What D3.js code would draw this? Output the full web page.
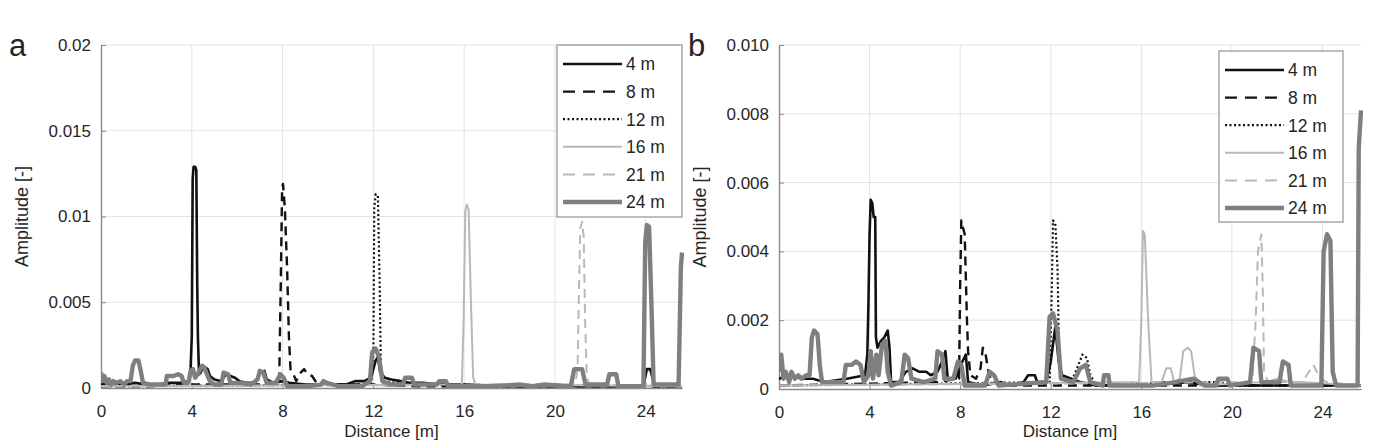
<!DOCTYPE html>
<html lang="en">
<head>
<meta charset="UTF-8">
<title>Amplitude vs distance</title>
<script src="https://d3js.org/d3.v7.min.js"></script>
<style>
  body { margin: 0; background: #fff; }
  svg text { font-family: "Liberation Sans", Arial, Helvetica, sans-serif; fill: #262626; }
</style>
</head>
<body>
<div id="chart"></div>
<script>
// legend labels, ticks
var seriesNames = ["4 m", "8 m", "12 m", "16 m", "21 m", "24 m"];
var xTicks = [0, 4, 8, 12, 16, 20, 24];
var yTicksA = [0, 0.005, 0.01, 0.015, 0.02];
var yTickLabelsA = ["0", "0.005", "0.01", "0.015", "0.02"];
var yTicksB = [0, 0.002, 0.004, 0.006, 0.008, 0.010];
var yTickLabelsB = ["0", "0.002", "0.004", "0.006", "0.008", "0.010"];

// panel a : [distance m, amplitude]
var a4 = [[0,0.0002],[0.5,0.0003],[1,0.0002],[1.5,0.0003],[2,0.0002],[2.5,0.0002],[3,0.0003],[3.5,0.0003],[3.9,0.0004],[3.95,0.0012],[4.0,0.003],[4.04,0.0122],[4.08,0.0129],[4.15,0.0129],[4.2,0.0127],[4.24,0.006],[4.27,0.003],[4.32,0.0008],[4.4,0.0009],[4.5,0.0013],[4.6,0.0012],[4.7,0.0011],[4.8,0.0007],[5.0,0.0005],[5.3,0.0004],[5.5,0.0008],[5.7,0.0007],[5.9,0.0006],[6.1,0.0004],[6.4,0.0003],[6.8,0.0003],[7.0,0.0009],[7.2,0.001],[7.3,0.0005],[7.6,0.0003],[8.0,0.0004],[8.3,0.0003],[9,0.0002],[10,0.0002],[10.8,0.0002],[11.2,0.0004],[11.6,0.0004],[11.9,0.0006],[12.1,0.0016],[12.2,0.0018],[12.3,0.0009],[12.5,0.0006],[12.8,0.0005],[13.2,0.0004],[13.6,0.0003],[14.2,0.0003],[14.9,0.0002],[16,0.0002],[18,0.0001],[20,0.0001],[22,0.0001],[23.9,0.0001],[24.05,0.0011],[24.2,0.0011],[24.4,0.0001],[25.6,0.0001]];
var a8 = [[0,0.0001],[2,0.0001],[4,0.0002],[6,0.0002],[7.5,0.0002],[7.85,0.0003],[7.92,0.006],[7.98,0.0117],[8.02,0.0119],[8.1,0.0105],[8.2,0.007],[8.28,0.003],[8.35,0.0011],[8.45,0.0009],[8.6,0.0004],[8.8,0.0009],[8.95,0.0011],[9.1,0.0008],[9.3,0.0007],[9.5,0.0003],[10,0.0002],[11,0.0002],[12,0.0002],[14,0.0001],[25.6,0.0001]];
var a12 = [[0,0.0001],[11.9,0.0002],[12.0,0.0015],[12.04,0.0105],[12.1,0.0113],[12.2,0.0112],[12.28,0.006],[12.33,0.0012],[12.5,0.0004],[13,0.0003],[14,0.0002],[25.6,0.0001]];
var a16 = [[0,0.0001],[15.9,0.0002],[15.98,0.004],[16.05,0.0103],[16.12,0.0107],[16.2,0.0104],[16.3,0.005],[16.4,0.0006],[16.5,0.0002],[25.6,0.0001]];
var a21 = [[0,0.0001],[20.9,0.0002],[21.0,0.0012],[21.05,0.005],[21.12,0.0093],[21.2,0.0097],[21.27,0.0088],[21.33,0.004],[21.4,0.0008],[21.5,0.0002],[25.6,0.0001]];
var a24 = [[0,0.0009],[0.08,0.0004],[0.15,0.0007],[0.25,0.0003],[0.35,0.0005],[0.45,0.0002],[0.55,0.0004],[0.7,0.0003],[0.85,0.0004],[1.0,0.0002],[1.15,0.0004],[1.3,0.0004],[1.4,0.0013],[1.5,0.0016],[1.65,0.0016],[1.75,0.001],[1.85,0.0003],[2.2,0.0002],[2.6,0.0002],[2.85,0.0002],[2.9,0.0007],[3.2,0.0007],[3.4,0.0008],[3.55,0.0007],[3.65,0.0003],[3.85,0.0003],[3.95,0.001],[4.05,0.0011],[4.15,0.0006],[4.3,0.0009],[4.45,0.0013],[4.55,0.0012],[4.7,0.0007],[4.8,0.0004],[5.0,0.0002],[5.3,0.0002],[5.4,0.0009],[5.6,0.0008],[5.7,0.0003],[6.2,0.0003],[6.6,0.0002],[6.9,0.0005],[7.0,0.001],[7.15,0.0009],[7.3,0.0003],[7.7,0.0003],[7.9,0.0008],[8.05,0.0006],[8.2,0.0001],[9,0.0001],[9.7,0.0002],[9.8,0.0004],[9.95,0.0003],[10.5,0.0001],[11.5,0.0001],[11.85,0.0004],[11.95,0.0021],[12.1,0.0023],[12.25,0.0018],[12.4,0.0004],[12.8,0.0002],[13.3,0.0002],[13.4,0.0006],[13.7,0.0006],[13.8,0.0002],[14.8,0.0002],[14.9,0.0004],[15.2,0.0004],[15.3,0.0001],[17,0.0001],[18.5,0.0002],[19,0.0001],[19.5,0.0002],[20.7,0.0001],[20.85,0.0011],[21.2,0.0011],[21.35,0.0002],[22.3,0.0002],[22.4,0.0008],[22.7,0.0008],[22.8,0.0001],[23.9,0.0001],[23.98,0.0085],[24.05,0.0095],[24.15,0.0094],[24.25,0.005],[24.35,0.0002],[24.6,0.0002],[25.3,0.0002],[25.45,0.0002],[25.55,0.007],[25.6,0.0079]];

// panel b
var b4 = [[0,0.0003],[0.5,0.0004],[1,0.0003],[1.5,0.0003],[2,0.0002],[3,0.0003],[3.8,0.0004],[3.9,0.001],[3.95,0.0025],[4.0,0.0045],[4.05,0.0055],[4.12,0.0054],[4.18,0.005],[4.25,0.005],[4.28,0.0015],[4.35,0.0012],[4.5,0.0014],[4.65,0.0015],[4.8,0.0017],[4.88,0.0012],[4.95,0.0002],[5.3,0.0002],[5.6,0.0005],[5.9,0.0006],[6.2,0.0005],[6.5,0.0005],[6.7,0.0004],[7.0,0.0005],[7.2,0.0008],[7.35,0.0011],[7.45,0.0003],[7.8,0.0003],[8.1,0.0008],[8.25,0.001],[8.35,0.0002],[9,0.0001],[9.8,0.0002],[10.2,0.0001],[10.8,0.0002],[11.0,0.0004],[11.3,0.0004],[11.4,0.0002],[11.8,0.0002],[12.0,0.0008],[12.2,0.0018],[12.35,0.0008],[12.5,0.0004],[12.9,0.0003],[13.3,0.0002],[14,0.0001],[15,0.0001],[16.5,0.0001],[18,0.0002],[19,0.0001],[20,0.0001],[22,0.0001],[25.7,0.0001]];
var b8 = [[0,0.0001],[7.0,0.0002],[7.95,0.0003],[8.0,0.003],[8.05,0.0049],[8.12,0.0047],[8.2,0.0045],[8.3,0.002],[8.35,0.0011],[8.45,0.0004],[8.7,0.0003],[8.9,0.0006],[9.0,0.0012],[9.1,0.0011],[9.25,0.0005],[9.4,0.0002],[10,0.0001],[25.7,0.0001]];
var b12 = [[0,0.0001],[11.95,0.0002],[12.05,0.003],[12.1,0.0049],[12.2,0.0048],[12.3,0.0035],[12.37,0.0008],[12.5,0.0003],[12.9,0.0002],[13.1,0.0005],[13.4,0.001],[13.6,0.0009],[13.75,0.0004],[14,0.0001],[17,0.0002],[19.5,0.0002],[20,0.0001],[25.7,0.0001]];
var b16 = [[0,0.0001],[15.9,0.0002],[16.0,0.002],[16.07,0.0046],[16.15,0.0045],[16.3,0.002],[16.45,0.0002],[16.9,0.0002],[17.1,0.0006],[17.3,0.0006],[17.45,0.0002],[17.7,0.0003],[17.85,0.0011],[18.05,0.0012],[18.2,0.0011],[18.35,0.0004],[18.6,0.0001],[21.5,0.0002],[22,0.0003],[22.6,0.0002],[23,0.0002],[25.7,0.0001]];
var b21 = [[0,0.0001],[20.9,0.0002],[21.05,0.002],[21.15,0.004],[21.3,0.0045],[21.36,0.003],[21.42,0.0005],[21.6,0.0002],[23.1,0.0002],[23.3,0.0004],[23.6,0.0007],[23.9,0.0003],[24.2,0.0002],[25.7,0.0001]];
var b24 = [[0,0.0005],[0.1,0.001],[0.2,0.0003],[0.3,0.0005],[0.45,0.0002],[0.55,0.0005],[0.7,0.0003],[0.85,0.0004],[1.0,0.0003],[1.2,0.0004],[1.35,0.0004],[1.45,0.0015],[1.55,0.0017],[1.7,0.0016],[1.8,0.0007],[1.9,0.0002],[2.5,0.0002],[2.85,0.0002],[2.95,0.0007],[3.2,0.0007],[3.4,0.0008],[3.6,0.0007],[3.75,0.0002],[3.95,0.0004],[4.05,0.0011],[4.15,0.0003],[4.3,0.001],[4.4,0.0004],[4.55,0.0013],[4.7,0.0014],[4.8,0.0005],[4.95,0.0001],[5.4,0.0002],[5.55,0.001],[5.7,0.0009],[5.85,0.0003],[6.4,0.0002],[6.9,0.0003],[7.0,0.0011],[7.2,0.001],[7.3,0.0003],[7.7,0.0003],[7.9,0.0008],[8.05,0.0007],[8.2,0.0001],[9.1,0.0001],[9.3,0.0005],[9.5,0.0004],[9.7,0.0001],[11.8,0.0002],[11.95,0.0021],[12.1,0.0022],[12.3,0.0017],[12.45,0.0003],[13.0,0.0002],[13.3,0.0006],[13.55,0.0007],[13.75,0.0002],[14.3,0.0001],[14.35,0.0004],[14.55,0.0004],[14.6,0.0001],[16.5,0.0001],[17.5,0.0002],[18.3,0.0003],[18.8,0.0001],[19.3,0.0001],[19.4,0.0003],[19.8,0.0003],[19.9,0.0001],[20.8,0.0002],[20.95,0.0012],[21.2,0.0011],[21.3,0.0002],[22.1,0.0002],[22.25,0.0008],[22.5,0.0007],[22.6,0.0001],[23.95,0.0001],[24.05,0.004],[24.2,0.0045],[24.35,0.0043],[24.45,0.0005],[24.6,0.0001],[25.4,0.0001],[25.55,0.0001],[25.6,0.007],[25.7,0.0081]];

var styles = {
  "4 m":  {color: "#111", width: 2.6, dash: null},
  "8 m":  {color: "#111", width: 2.4, dash: "9,6"},
  "12 m": {color: "#111", width: 2.2, dash: "2,2.5"},
  "16 m": {color: "#b8b8b8", width: 2, dash: null},
  "21 m": {color: "#b8b8b8", width: 2, dash: "9,6"},
  "24 m": {color: "#7f7f7f", width: 4.4, dash: null}
};

var svg = d3.select("#chart").append("svg")
  .attr("width", 1373).attr("height", 442);

function drawPanel(cfg) {
  var x = d3.scaleLinear().domain([0, cfg.xMax]).range([cfg.left, cfg.right]);
  var y = d3.scaleLinear().domain([0, cfg.yMax]).range([cfg.bottom, cfg.top]);
  var g = svg.append("g");

  // grid
  g.selectAll(".vg").data(xTicks.slice(1)).enter().append("line")
    .attr("x1", function(d) { return x(d); }).attr("x2", function(d) { return x(d); })
    .attr("y1", cfg.top).attr("y2", cfg.bottom)
    .attr("stroke", "#e3e3e3").attr("stroke-width", 1);
  g.selectAll(".hg").data(cfg.yTicks.slice(1)).enter().append("line")
    .attr("x1", cfg.left).attr("x2", cfg.right)
    .attr("y1", function(d) { return y(d); }).attr("y2", function(d) { return y(d); })
    .attr("stroke", "#e3e3e3").attr("stroke-width", 1);

  // axes
  var xAxis = g.append("g")
    .attr("transform", "translate(0," + cfg.bottom + ")")
    .call(d3.axisBottom(x).tickValues(xTicks).tickSizeInner(-5).tickSizeOuter(0).tickPadding(17));
  var yAxis = g.append("g")
    .attr("transform", "translate(" + cfg.left + ",0)")
    .call(d3.axisLeft(y).tickValues(cfg.yTicks).tickSizeInner(-5).tickSizeOuter(0).tickPadding(10)
      .tickFormat(function(d, i) { return cfg.yLabels[i]; }));
  [xAxis, yAxis].forEach(function(ax) {
    ax.select(".domain").attr("stroke", "#8a8a8a").attr("stroke-width", 1.4);
    ax.selectAll(".tick line").attr("stroke", "#8a8a8a");
    ax.selectAll("text").attr("font-size", 17).attr("fill", "#262626");
  });

  // clip
  var clipId = "clip" + cfg.letter;
  svg.append("clipPath").attr("id", clipId).append("rect")
    .attr("x", cfg.left).attr("y", cfg.top - 2)
    .attr("width", cfg.right - cfg.left + 2).attr("height", cfg.bottom - cfg.top + 2);

  var line = d3.line().x(function(d) { return x(d[0]); }).y(function(d) { return y(d[1]); });
  var lines = g.append("g").attr("clip-path", "url(#" + clipId + ")");
  cfg.series.forEach(function(s, i) {
    var st = styles[seriesNames[i]];
    lines.append("path").datum(s)
      .attr("d", line)
      .attr("fill", "none")
      .attr("stroke", st.color)
      .attr("stroke-width", st.width)
      .attr("stroke-linejoin", "round")
      .attr("stroke-dasharray", st.dash);
  });

  // legend
  var lg = g.append("g").attr("transform", "translate(" + cfg.legend[0] + "," + cfg.legend[1] + ")");
  lg.append("rect").attr("width", cfg.legend[2]).attr("height", cfg.legend[3])
    .attr("fill", "#fff").attr("stroke", "#9a9a9a").attr("stroke-width", 1.3);
  seriesNames.forEach(function(name, i) {
    var st = styles[name];
    var yy = 19 + i * 27.6;
    lg.append("line").attr("x1", 6).attr("x2", 65).attr("y1", yy).attr("y2", yy)
      .attr("stroke", st.color).attr("stroke-width", st.width)
      .attr("stroke-dasharray", st.dash === "9,6" ? "12,8" : st.dash);
    lg.append("text").attr("x", 69).attr("y", yy).attr("dy", "0.36em")
      .attr("font-size", 17.5).text(name);
  });

  // labels
  g.append("text").attr("x", cfg.letterX).attr("y", 56)
    .attr("font-size", 31).attr("fill", "#111").text(cfg.letter);
  g.append("text")
    .attr("transform", "translate(" + cfg.ylabelX + "," + ((cfg.top + cfg.bottom) / 2) + ") rotate(-90)")
    .attr("text-anchor", "middle").attr("font-size", 18).text("Amplitude [-]");
  g.append("text").attr("x", (cfg.left + cfg.right) / 2).attr("y", 437)
    .attr("text-anchor", "middle").attr("font-size", 17).text("Distance [m]");
}

drawPanel({letter: "a", left: 101, right: 682, top: 45, bottom: 388, xMax: 25.6, yMax: 0.02,
  yTicks: yTicksA, yLabels: yTickLabelsA, series: [a4, a8, a12, a16, a21, a24],
  legend: [557, 45, 125, 172], letterX: 9, ylabelX: 28});
drawPanel({letter: "b", left: 779, right: 1361, top: 45, bottom: 389, xMax: 25.7, yMax: 0.010,
  yTicks: yTicksB, yLabels: yTickLabelsB, series: [b4, b8, b12, b16, b21, b24],
  legend: [1219, 51, 124, 171], letterX: 688, ylabelX: 706});
</script>
</body>
</html>
